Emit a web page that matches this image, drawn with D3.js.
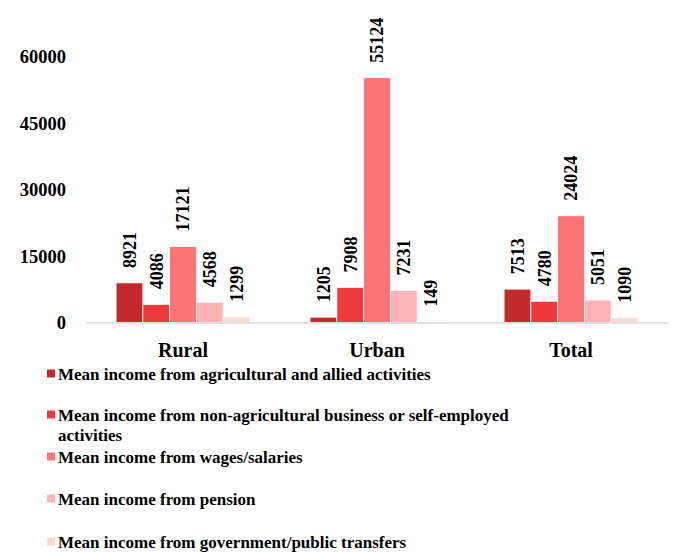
<!DOCTYPE html>
<html>
<head>
<meta charset="utf-8">
<script src="https://cdn.jsdelivr.net/npm/d3@7"></script>
</head>
<body style="margin:0;background:#fff">
<svg id="chart" width="677" height="557"></svg>
<script>
const categories = ["Rural", "Urban", "Total"];
const seriesNames = [
  "Mean income from agricultural and allied activities",
  "Mean income from non-agricultural business or self-employed activities",
  "Mean income from wages/salaries",
  "Mean income from pension",
  "Mean income from government/public transfers"
];
const agricultural = [8921, 1205, 7513];
const nonAgricultural = [4086, 7908, 4780];
const wages = [17121, 55124, 24024];
const pension = [4568, 7231, 5051];
const government = [1299, 149, 1090];
const seriesColors = ["#C4292E", "#EE3A3D", "#FF7476", "#FFB3B4", "#F8DCD3"];
const yTicks = [0, 15000, 30000, 45000, 60000];

const seriesValues = [agricultural, nonAgricultural, wages, pension, government];
const FONT = `"Liberation Serif", "Times New Roman", serif`;

const svg = d3.select("#chart");

const x0 = d3.scaleBand().domain(categories).range([86, 668]).paddingInner(0).paddingOuter(0);
const inner = 0.31;
const x1 = d3.scaleBand().domain(d3.range(seriesNames.length))
  .range([x0.bandwidth() * inner / 2, x0.bandwidth() * (1 - inner / 2)]);
const y = d3.scaleLinear().domain([0, 60000]).range([322.5, 56]);

function styleText(sel, size) {
  sel.attr("fill", "#000")
     .style("font-family", FONT).style("font-weight", "bold").style("font-size", size + "px");
}

// y axis labels
const yAxis = d3.axisLeft(y).tickValues(yTicks).tickSize(0).tickPadding(0).tickFormat(d3.format("d"));
const yg = svg.append("g").attr("transform", "translate(66,0)").call(yAxis);
yg.attr("font-family", null);
yg.select(".domain").remove();
yg.selectAll("text").call(styleText, 18.5).attr("dy", "0.35em");

// bars
const groups = svg.append("g").selectAll("g").data(categories).join("g")
  .attr("transform", d => `translate(${x0(d)},0)`);

groups.each(function(cat, ci) {
  const g = d3.select(this);
  seriesValues.forEach((vals, si) => {
    const v = vals[ci];
    g.append("rect")
      .attr("x", x1(si))
      .attr("y", y(v))
      .attr("width", x1.bandwidth())
      .attr("height", y(0) - y(v))
      .attr("fill", seriesColors[si])
      .attr("stroke", "#fff")
      .attr("stroke-width", 0.8);
    const cx = x1(si) + x1.bandwidth() / 2;
    const ty = y(v) - 15;
    g.append("text")
      .attr("transform", `translate(${cx},${ty}) rotate(-90)`)
      .attr("text-anchor", "start")
      .attr("dy", "0.35em")
      .call(styleText, 18)
      .text(v);
  });
});

// x axis
const xAxis = d3.axisBottom(x0).tickSize(0).tickPadding(0);
const xg = svg.append("g").attr("transform", `translate(0,${y(0)})`).call(xAxis);
xg.attr("font-family", null);
xg.select(".domain").attr("stroke", "#D9D9D9").attr("stroke-width", 1.5);
xg.selectAll("text").call(styleText, 20).attr("y", 34).attr("dy", "0");

// legend
const legendRowsY = [374, 415, 457, 499, 542];
const maxChars = 62;
const leg = svg.append("g");
seriesNames.forEach((name, i) => {
  const cy = legendRowsY[i];
  leg.append("rect").attr("x", 47).attr("y", cy - 4.5).attr("width", 8).attr("height", 8).attr("fill", seriesColors[i]);
  const t = leg.append("text").attr("x", 58).attr("y", cy + 6).call(styleText, 17);
  const lines = [];
  let cur = "";
  name.split(" ").forEach(w => {
    const next = cur ? cur + " " + w : w;
    if (next.length > maxChars && cur) { lines.push(cur); cur = w; } else { cur = next; }
  });
  lines.push(cur);
  lines.forEach((l, li) => {
    t.append("tspan").attr("x", 58).attr("dy", li === 0 ? 0 : 20).text(l);
  });
});
</script>
</body>
</html>
